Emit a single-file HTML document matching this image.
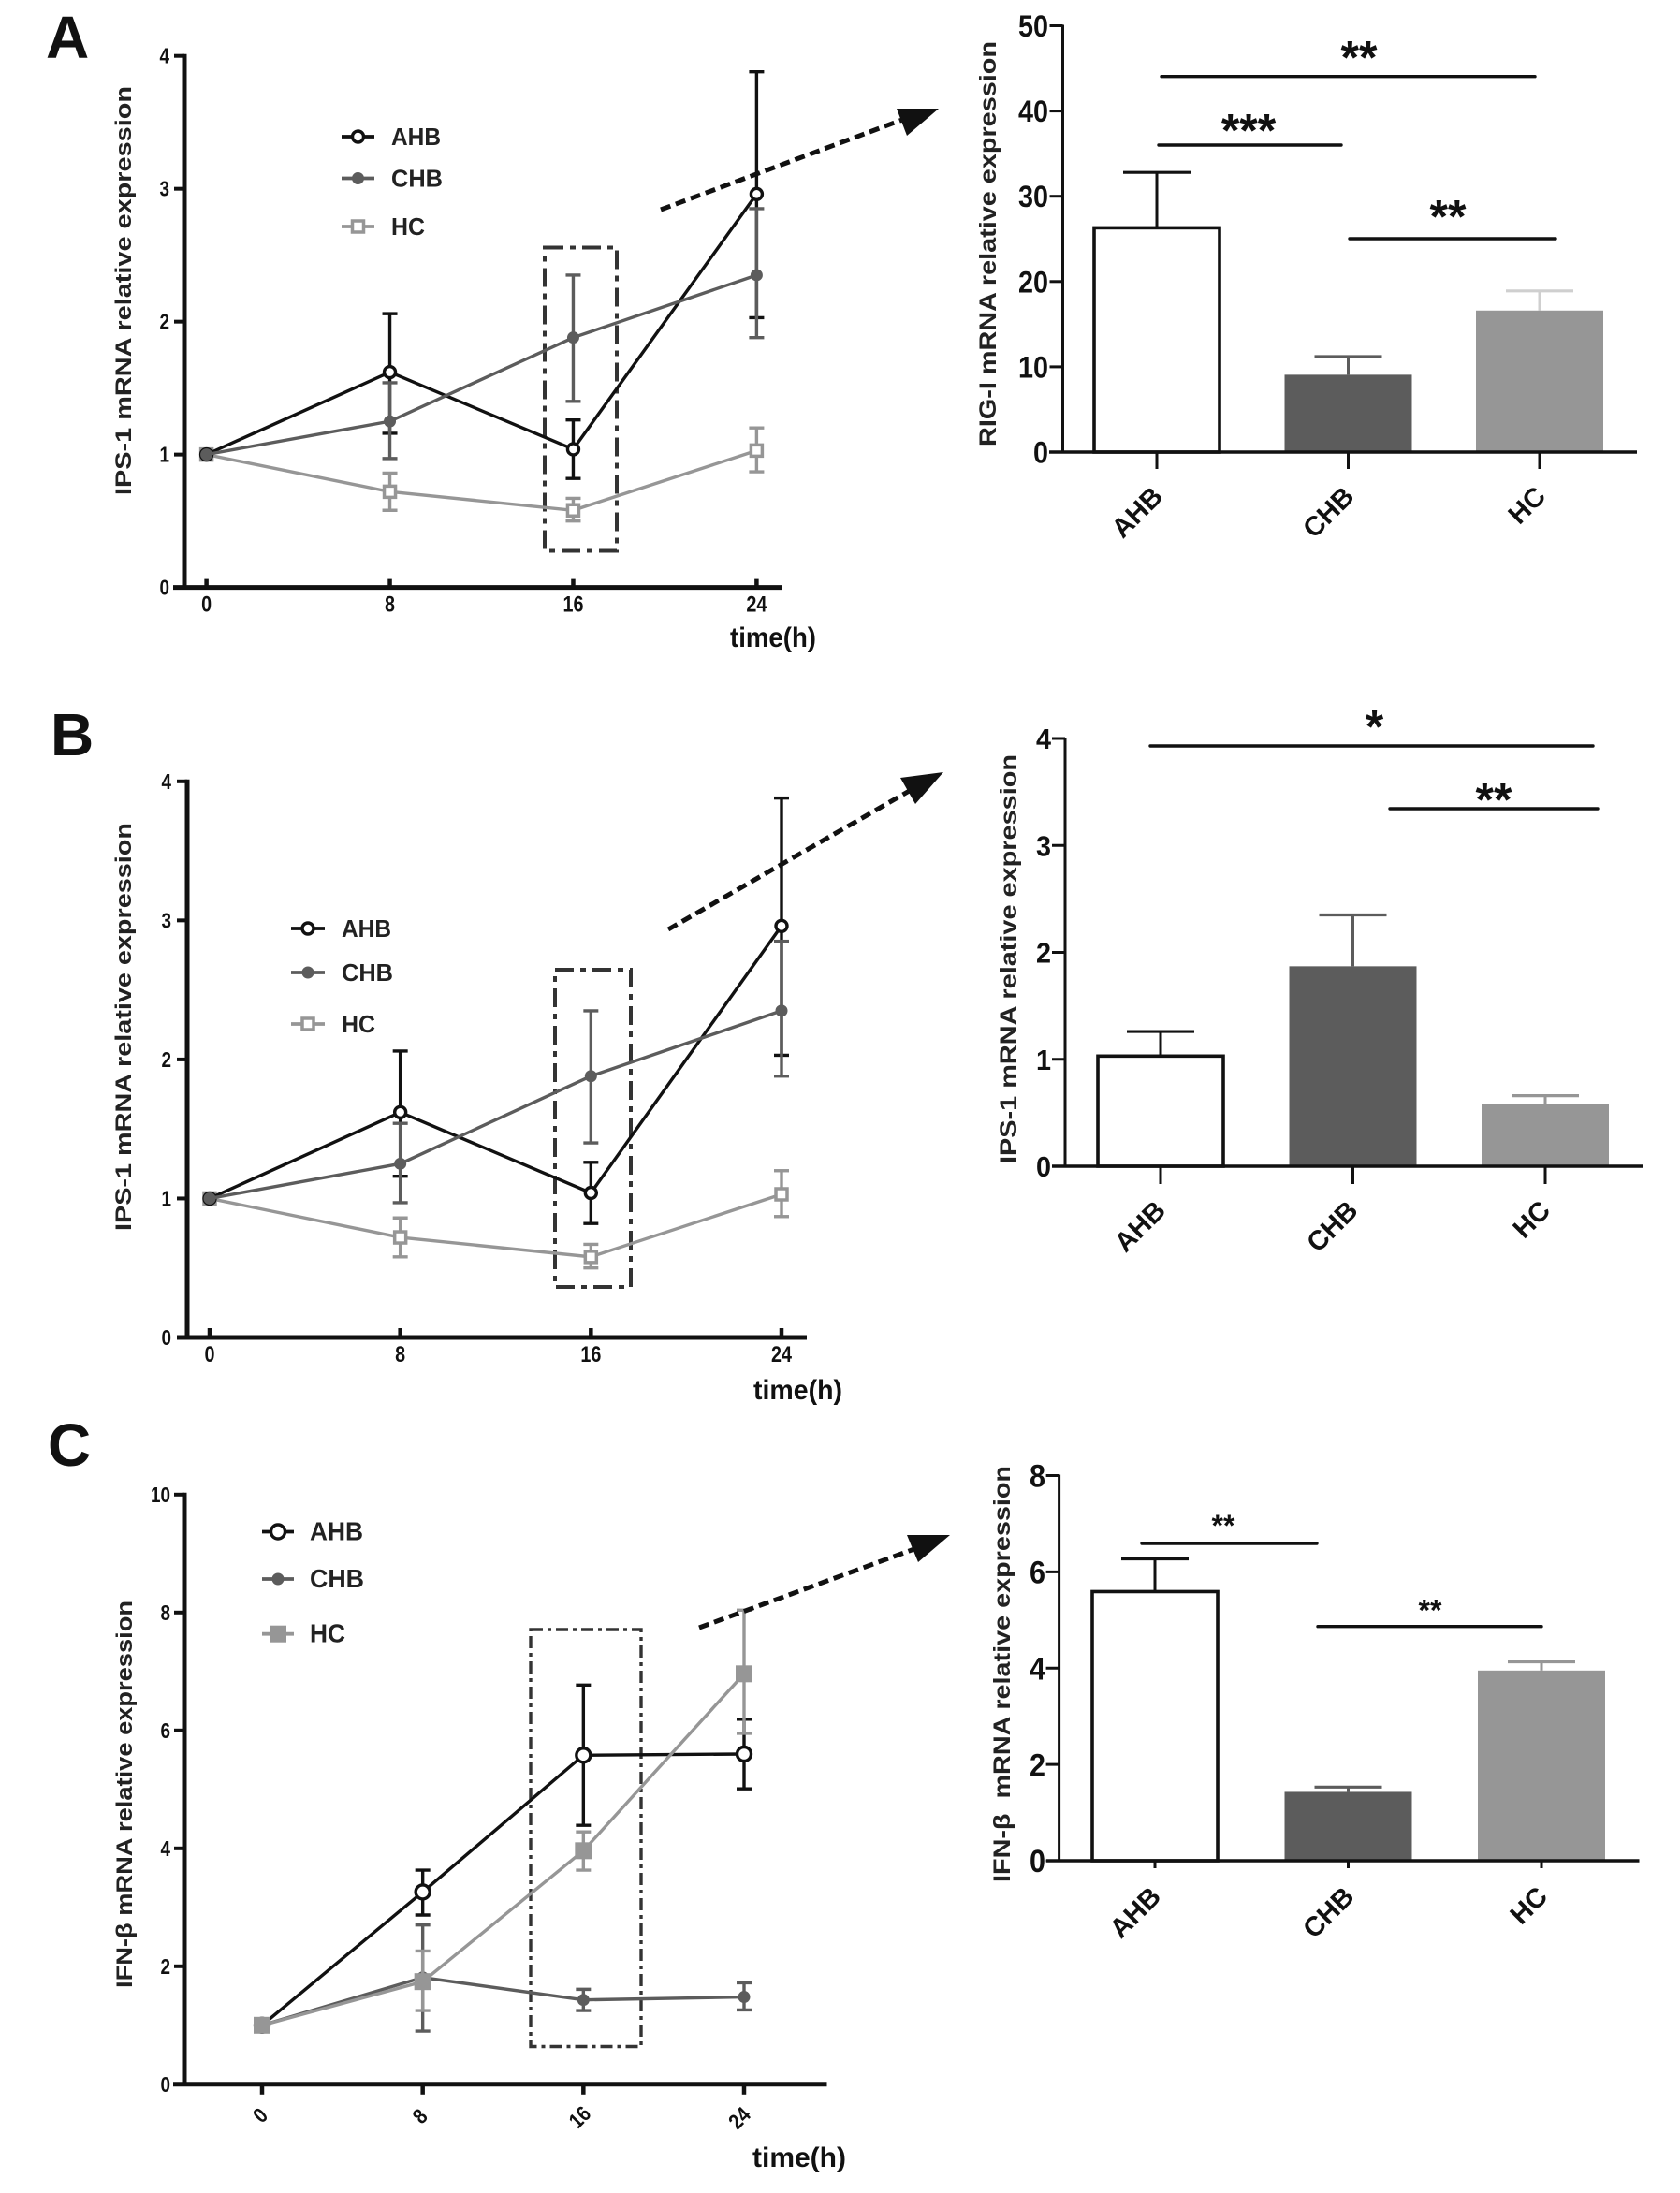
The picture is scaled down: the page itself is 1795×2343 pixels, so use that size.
<!DOCTYPE html>
<html lang="en">
<head>
<meta charset="utf-8">
<title>IPS-1, RIG-I and IFN-β mRNA expression</title>
<style>
html,body{margin:0;padding:0;background:#fff;}
svg{display:block;font-family:"Liberation Sans",Arial,sans-serif;font-weight:bold;fill:#111;}
</style>
</head>
<body>
<svg id="figure" width="1795" height="2343" viewBox="0 0 1795 2343" xmlns="http://www.w3.org/2000/svg">
  <rect width="1795" height="2343" fill="#fff"/>
  <text x="49" y="62" font-size="64">A</text>
  <text x="54" y="807" font-size="64">B</text>
  <text x="51" y="1566" font-size="64">C</text>
  <g id="lineA"></g>
  <g id="barA"></g>
  <g id="lineB"></g>
  <g id="barB"></g>
  <g id="lineC"></g>
  <g id="barC"></g>
</svg>
<script>
// ---- shared categories ----
const timepoints = [0, 8, 16, 24];
const timeTickLabels = ['0', '8', '16', '24'];
const groups = ['AHB', 'CHB', 'HC'];

// ---- panels A and B line chart: IPS-1 ----
const ipsLineTicks = [0, 1, 2, 3, 4];
const ipsAHB = [1, 1.62, 1.04, 2.96];
const ipsAHBHigh = [1, 2.06, 1.26, 3.88];
const ipsAHBLow = [1, 1.16, 0.82, 2.03];
const ipsCHB = [1, 1.25, 1.88, 2.35];
const ipsCHBHigh = [1, 1.54, 2.35, 2.85];
const ipsCHBLow = [1, 0.97, 1.4, 1.88];
const ipsHC = [1, 0.72, 0.58, 1.03];
const ipsHCHigh = [1, 0.86, 0.67, 1.2];
const ipsHCLow = [1, 0.58, 0.5, 0.87];

// ---- panel C line chart: IFN-beta ----
const ifnLineTicks = [0, 2, 4, 6, 8, 10];
const ifnAHB = [1, 3.26, 5.58, 5.6];
const ifnAHBHigh = [1, 3.63, 6.77, 6.19];
const ifnAHBLow = [1, 2.87, 4.39, 5.01];
const ifnCHB = [1, 1.81, 1.43, 1.48];
const ifnCHBHigh = [1, 2.7, 1.61, 1.72];
const ifnCHBLow = [1, 0.9, 1.25, 1.26];
const ifnHC = [1, 1.74, 3.96, 6.96];
const ifnHCHigh = [1, 2.26, 4.28, 8.04];
const ifnHCLow = [1, 1.25, 3.63, 5.95];

// ---- bar charts ----
const rigBarTicks = [0, 10, 20, 30, 40, 50];
const rigBarMeans = [26.3, 9.07, 16.6];
const rigBarErrors = [32.8, 11.2, 18.9];
const ips16BarTicks = [0, 1, 2, 3, 4];
const ips16BarMeans = [1.03, 1.87, 0.58];
const ips16BarErrors = [1.26, 2.35, 0.66];
const ifn16BarTicks = [0, 2, 4, 6, 8];
const ifn16BarMeans = [5.59, 1.43, 3.95];
const ifn16BarErrors = [6.27, 1.53, 4.13];

const NS = 'http://www.w3.org/2000/svg';
const INK = '#111111', DARK = '#5c5c5c', MID = '#969696';

function tag(parent, type, name, props) {
  const el = document.createElementNS(NS, type);
  for (const k in props) { el.setAttribute(k, props[k]); }
  
  
  parent.appendChild(el);
  return el;
}
function seg(p, name, x1, y1, x2, y2, color, w, extra) {
  return tag(p, 'line', name, Object.assign({x1, y1, x2, y2, stroke: color, 'stroke-width': w}, extra || {}));
}
function label(p, name, str, x, y, size, anchor, extra) {
  const t = tag(p, 'text', name, Object.assign({x, y, 'font-size': size, 'text-anchor': anchor || 'start', fill: INK}, extra || {}));
  t.textContent = str;
  return t;
}
function squeezed(widthPerChar, str) {
  return {textLength: widthPerChar * str.length, lengthAdjust: 'spacingAndGlyphs'};
}
function linear(d0, d1, r0, r1) {
  return function (v) { return r0 + (v - d0) * (r1 - r0) / (d1 - d0); };
}
function marker(p, name, kind, x, y, color, size) {
  if (kind === 'circle-open') {
    tag(p, 'circle', name, {cx: x, cy: y, r: size, fill: '#fff', stroke: color, 'stroke-width': 3.4});
  } else if (kind === 'circle') {
    tag(p, 'circle', name, {cx: x, cy: y, r: size, fill: color});
  } else if (kind === 'square-open') {
    tag(p, 'rect', name, {x: x - size, y: y - size, width: size * 2, height: size * 2, fill: '#fff', stroke: color, 'stroke-width': 3.5});
  } else {
    tag(p, 'rect', name, {x: x - size, y: y - size, width: size * 2, height: size * 2, fill: color});
  }
}

function drawLineChart(cfg) {
  const g = document.getElementById(cfg.id);
  const X = linear(timepoints[0], timepoints[3], cfg.x0, cfg.x24);
  const Y = linear(0, cfg.ticks[cfg.ticks.length - 1], cfg.yBottom, cfg.yTop);

  // axes
  seg(g, 'y-axis', cfg.axisX, cfg.yTop - 2, cfg.axisX, cfg.yBottom + 2, INK, 5);
  seg(g, 'x-axis', cfg.xAxisFrom, cfg.yBottom, cfg.xAxisTo, cfg.yBottom, INK, 5);
  cfg.ticks.forEach(function (t) {
    seg(g, 'y-tick', cfg.axisX - 11, Y(t), cfg.axisX, Y(t), INK, 4);
    label(g, 'y-tick-label', String(t), cfg.yLabelX, Y(t) + 8, 23, 'end', squeezed(10.5, String(t)));
  });
  timepoints.forEach(function (t, i) {
    seg(g, 'x-tick', X(t), cfg.yBottom + cfg.tickFrom, X(t), cfg.yBottom + cfg.tickTo, INK, 4.5);
    if (cfg.rotatedTicks) {
      const cx = X(t) - 2 - i, cy = cfg.yBottom + 33 + i;
      label(g, 'x-tick-label', timeTickLabels[i], cx, cy + 8, 23, 'middle', Object.assign({transform: 'rotate(-45 ' + cx + ' ' + cy + ')'}, squeezed(11, timeTickLabels[i])));
    } else {
      label(g, 'x-tick-label', timeTickLabels[i], X(t), cfg.yBottom + 26, 24, 'middle', squeezed(11, timeTickLabels[i]));
    }
  });
  label(g, 'x-axis-title', 'time(h)', cfg.timeX, cfg.timeY, 30, 'start', {textLength: cfg.timeW, lengthAdjust: 'spacingAndGlyphs'});
  label(g, 'y-axis-title', cfg.title, cfg.titleX, cfg.titleY, 24, 'start', {
    transform: 'rotate(-90 ' + cfg.titleX + ' ' + cfg.titleY + ')', textLength: cfg.titleLen, lengthAdjust: 'spacingAndGlyphs', fill: '#222'
  });

  // highlight box
  tag(g, 'rect', 'timepoint-16-highlight-box', {
    x: cfg.box[0], y: cfg.box[1], width: cfg.box[2], height: cfg.box[3], fill: 'none', stroke: '#333',
    'stroke-width': cfg.boxW, 'stroke-dasharray': cfg.boxDash
  });

  // series
  cfg.series.forEach(function (s) {
    const sg = tag(g, 'g', 'series-' + s.name.toLowerCase(), {});
    tag(sg, 'polyline', 'series-line', {
      points: s.values.map(function (v, i) { return X(timepoints[i]) + ',' + Y(v); }).join(' '),
      fill: 'none', stroke: s.color, 'stroke-width': 3.4
    });
    s.values.forEach(function (v, i) {
      if (i === 0) { return; }
      const x = X(timepoints[i]);
      seg(sg, 'error-bar-stem', x, Y(s.high[i]), x, Y(s.low[i]), s.color, 3.4);
      seg(sg, 'error-bar-cap-high', x - cfg.capW, Y(s.high[i]), x + cfg.capW, Y(s.high[i]), s.color, 3.4);
      seg(sg, 'error-bar-cap-low', x - cfg.capW, Y(s.low[i]), x + cfg.capW, Y(s.low[i]), s.color, 3.4);
    });
    s.values.forEach(function (v, i) {
      marker(sg, 'data-point', s.kind, X(timepoints[i]), Y(v), s.color, s.size);
    });
  });

  // legend
  cfg.series.slice().sort(function (a, b) { return groups.indexOf(a.name) - groups.indexOf(b.name); }).forEach(function (s, i) {
    const ly = cfg.legendY[i];
    const lg = tag(g, 'g', 'legend-entry-' + s.name.toLowerCase(), {});
    seg(lg, 'legend-line', cfg.legendX[0], ly, cfg.legendX[1], ly, s.color, 3.8);
    marker(lg, 'legend-marker', s.kind, (cfg.legendX[0] + cfg.legendX[1]) / 2, ly, s.color, s.size);
    label(lg, 'legend-label', s.name, cfg.legendText, ly + 9, cfg.legendFont, 'start', {
      fill: '#222', textLength: cfg.legendWidths[i], lengthAdjust: 'spacingAndGlyphs'
    });
  });

  // arrow
  seg(g, 'dashed-arrow-line', cfg.arrow[0], cfg.arrow[1], cfg.arrow[2], cfg.arrow[3], INK, 5, {'stroke-dasharray': '11 6'});
  tag(g, 'polygon', 'arrow-head', {points: cfg.head, fill: INK});
}

function drawBarChart(cfg) {
  const g = document.getElementById(cfg.id);
  const Y = linear(0, cfg.ticks[cfg.ticks.length - 1], cfg.yBottom, cfg.yTop);
  const X = function (i) { return cfg.firstX + i * cfg.stepX; };
  const fills = ['#fff', DARK, MID];

  groups.forEach(function (name, i) {
    const x = X(i), top = Y(cfg.means[i]), err = Y(cfg.errors[i]);
    seg(g, 'error-bar-stem-' + name.toLowerCase(), x, err, x, top, cfg.errColors[i], 3);
    seg(g, 'error-bar-cap-' + name.toLowerCase(), x - 36, err, x + 36, err, cfg.errColors[i], 3.2);
    if (i === 0) {
      tag(g, 'rect', 'bar-' + name.toLowerCase(), {x: x - 67, y: top, width: 134, height: cfg.yBottom - top, fill: '#fff', stroke: INK, 'stroke-width': 3.6});
    } else {
      tag(g, 'rect', 'bar-' + name.toLowerCase(), {x: x - 68, y: top, width: 136, height: cfg.yBottom - top, fill: fills[i]});
    }
    seg(g, 'x-tick', x, cfg.yBottom, x, cfg.yBottom + cfg.tickLen, INK, 3);
    const px = x + cfg.catDx, py = cfg.yBottom + cfg.catDy;
    label(g, 'x-tick-label', name, px, py, 29, 'end', {transform: 'rotate(-45 ' + px + ' ' + py + ')'});
  });

  seg(g, 'y-axis', cfg.axisX, cfg.yTop - 1, cfg.axisX, cfg.yBottom + 1, INK, 3);
  seg(g, 'x-axis', cfg.xAxisFrom, cfg.yBottom, cfg.xAxisTo, cfg.yBottom, INK, 3.4);
  cfg.ticks.forEach(function (t) {
    seg(g, 'y-tick', cfg.axisX - 14, Y(t), cfg.axisX, Y(t), INK, 3);
    label(g, 'y-tick-label', String(t), cfg.yLabelX, Y(t) + cfg.tickFont * 0.36, cfg.tickFont, 'end', squeezed(cfg.tickCharW, String(t)));
  });
  label(g, 'y-axis-title', cfg.title, cfg.titleX, cfg.titleY, 25, 'start', {
    transform: 'rotate(-90 ' + cfg.titleX + ' ' + cfg.titleY + ')', textLength: cfg.titleLen, lengthAdjust: 'spacingAndGlyphs', fill: '#222', style: 'white-space:pre'
  });
  cfg.sig.forEach(function (s) {
    seg(g, 'significance-line', s[0], s[2], s[1], s[2], INK, 3.4, {'stroke-linecap': 'round'});
    label(g, 'significance-stars', s[3], s[4], s[5] + s[6] * 0.57, s[6], 'middle');
  });
}

function ipsSeries() {
  return [
    {name: 'HC', values: ipsHC, high: ipsHCHigh, low: ipsHCLow, color: MID, kind: 'square-open', size: 6},
    {name: 'AHB', values: ipsAHB, high: ipsAHBHigh, low: ipsAHBLow, color: INK, kind: 'circle-open', size: 6},
    {name: 'CHB', values: ipsCHB, high: ipsCHBHigh, low: ipsCHBLow, color: DARK, kind: 'circle', size: 6.5}
  ];
}

drawLineChart({
  id: 'lineA', ticks: ipsLineTicks, x0: 220.6, x24: 808.4, yTop: 59.7, yBottom: 627.6, axisX: 197,
  xAxisFrom: 185, xAxisTo: 836, yLabelX: 181, tickFrom: -9, tickTo: 1, capW: 8,
  timeX: 780, timeY: 691, timeW: 92,
  title: 'IPS-1 mRNA relative expression', titleX: 140, titleY: 529, titleLen: 437,
  box: [582, 264.5, 77, 324], boxW: 4, boxDash: '20 7 6 7',
  series: ipsSeries(), legendX: [365, 400], legendY: [146, 190.5, 242], legendText: 418, legendFont: 26, legendWidths: [53, 55, 36],
  arrow: [706, 224, 972, 125], head: '958,116 1003,116 969,145'
});
drawBarChart({
  id: 'barA', ticks: rigBarTicks, means: rigBarMeans, errors: rigBarErrors, firstX: 1236, stepX: 204.5,
  yTop: 27.5, yBottom: 483, axisX: 1135.5, xAxisFrom: 1121, xAxisTo: 1749, yLabelX: 1120, tickFont: 32, tickCharW: 16, tickLen: 18,
  catDx: 8, catDy: 49, errColors: [INK, DARK, '#cfcfcf'],
  title: 'RIG-I mRNA relative expression', titleX: 1064, titleY: 477, titleLen: 433,
  sig: [[1241, 1640, 81.7, '**', 1452, 50, 50], [1238, 1433, 155, '***', 1334, 128, 50], [1442, 1662, 255, '**', 1547, 220, 50]]
});

drawLineChart({
  id: 'lineB', ticks: ipsLineTicks, x0: 224, x24: 835, yTop: 834.8, yBottom: 1429, axisX: 200,
  xAxisFrom: 189, xAxisTo: 862, yLabelX: 183, tickFrom: -10, tickTo: 1, capW: 8,
  timeX: 805, timeY: 1495, timeW: 95,
  title: 'IPS-1 mRNA relative expression', titleX: 140, titleY: 1315, titleLen: 436,
  box: [593, 1036, 81, 339], boxW: 4, boxDash: '20 7 6 7',
  series: ipsSeries(), legendX: [311, 347], legendY: [992, 1039, 1094], legendText: 365, legendFont: 26, legendWidths: [53, 55, 36],
  arrow: [714, 993, 975, 843], head: '962,831 1008,825 978,859'
});
drawBarChart({
  id: 'barB', ticks: ips16BarTicks, means: ips16BarMeans, errors: ips16BarErrors, firstX: 1240, stepX: 205.5,
  yTop: 789, yBottom: 1246, axisX: 1138, xAxisFrom: 1124, xAxisTo: 1755, yLabelX: 1123, tickFont: 31, tickCharW: 16, tickLen: 19,
  catDx: 7, catDy: 49, errColors: [INK, DARK, MID],
  title: 'IPS-1 mRNA relative expression', titleX: 1086, titleY: 1243, titleLen: 437,
  sig: [[1229, 1702, 797, '*', 1468.5, 765, 50], [1485, 1707, 864, '**', 1596, 843, 50]]
});

drawLineChart({
  id: 'lineC', ticks: ifnLineTicks, x0: 280, x24: 795, yTop: 1596.8, yBottom: 2226.8, axisX: 197,
  xAxisFrom: 185, xAxisTo: 883.5, yLabelX: 182, tickFrom: 0, tickTo: 11, capW: 8, rotatedTicks: true,
  timeX: 804, timeY: 2315, timeW: 100,
  title: 'IFN-β mRNA relative expression', titleX: 141, titleY: 2124, titleLen: 414,
  box: [567, 1741, 118, 445.5], boxW: 3.4, boxDash: '13 5 4 5',
  series: [
    {name: 'AHB', values: ifnAHB, high: ifnAHBHigh, low: ifnAHBLow, color: INK, kind: 'circle-open', size: 7.5},
    {name: 'CHB', values: ifnCHB, high: ifnCHBHigh, low: ifnCHBLow, color: DARK, kind: 'circle', size: 6.5},
    {name: 'HC', values: ifnHC, high: ifnHCHigh, low: ifnHCLow, color: MID, kind: 'square', size: 9}
  ],
  legendX: [280, 314], legendY: [1636.5, 1687, 1745.7], legendText: 331, legendFont: 28, legendWidths: [57, 58, 38],
  arrow: [747, 1739, 985, 1652], head: '969,1640 1015,1640 981,1669'
});
drawBarChart({
  id: 'barC', ticks: ifn16BarTicks, means: ifn16BarMeans, errors: ifn16BarErrors, firstX: 1234, stepX: 206.5,
  yTop: 1576.5, yBottom: 1988, axisX: 1131.6, xAxisFrom: 1118, xAxisTo: 1751.5, yLabelX: 1117, tickFont: 34, tickCharW: 17, tickLen: 8,
  catDx: 8, catDy: 40, errColors: [INK, DARK, MID],
  title: 'IFN-β  mRNA relative expression', titleX: 1079, titleY: 2011, titleLen: 445,
  sig: [[1220, 1407, 1649, '**', 1307, 1623, 32], [1408, 1647, 1737.7, '**', 1528, 1713.5, 32]]
});
</script>
</body>
</html>
